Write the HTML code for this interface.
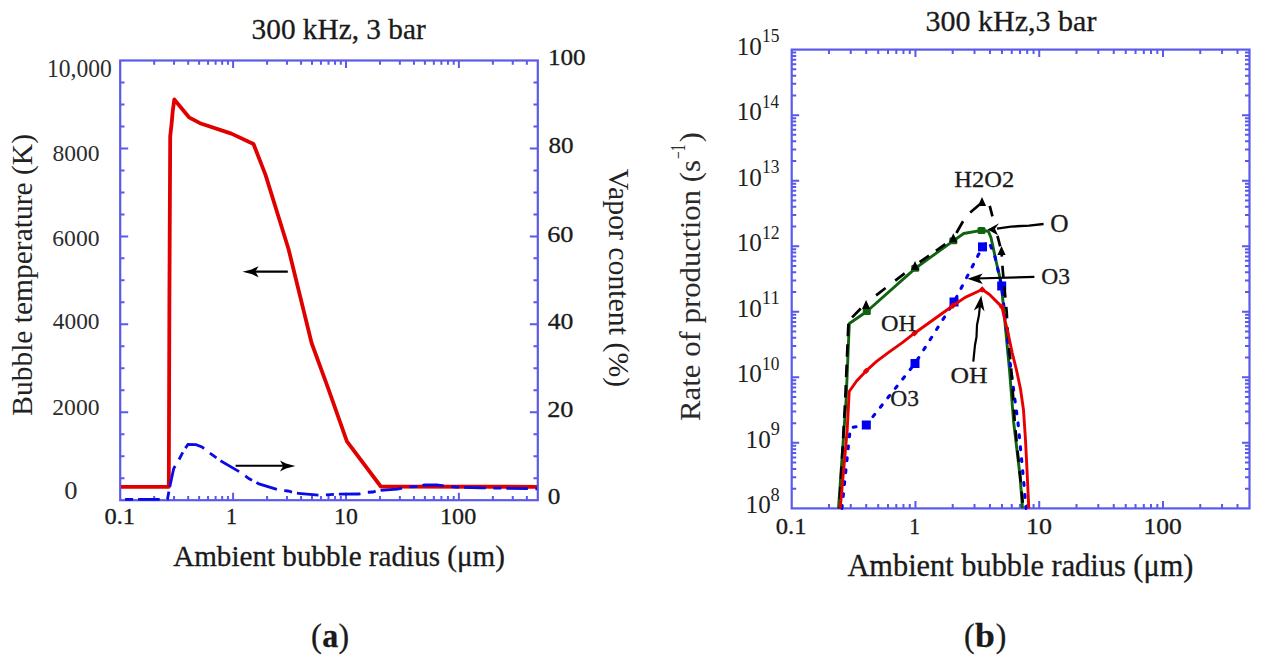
<!DOCTYPE html>
<html><head><meta charset="utf-8"><style>
html,body{margin:0;padding:0;background:#fff;}
svg{display:block;}
text{font-family:"Liberation Serif",serif;}
</style></head><body>
<svg width="1267" height="664" viewBox="0 0 1267 664">
<rect width="1267" height="664" fill="#fff"/>
<rect x="120.2" y="60.5" width="417.60" height="439.70" fill="none" stroke="#5a5aea" stroke-width="2.2"/>
<path d="M154.19 500.2v-4.2M154.19 60.5v4.2M174.07 500.2v-4.2M174.07 60.5v4.2M188.17 500.2v-4.2M188.17 60.5v4.2M199.11 500.2v-4.2M199.11 60.5v4.2M208.05 500.2v-4.2M208.05 60.5v4.2M215.61 500.2v-4.2M215.61 60.5v4.2M222.16 500.2v-4.2M222.16 60.5v4.2M227.93 500.2v-4.2M227.93 60.5v4.2M233.10 500.2v-7.5M233.10 60.5v7.5M267.08 500.2v-4.2M267.08 60.5v4.2M286.96 500.2v-4.2M286.96 60.5v4.2M301.07 500.2v-4.2M301.07 60.5v4.2M312.01 500.2v-4.2M312.01 60.5v4.2M320.95 500.2v-4.2M320.95 60.5v4.2M328.50 500.2v-4.2M328.50 60.5v4.2M335.05 500.2v-4.2M335.05 60.5v4.2M340.83 500.2v-4.2M340.83 60.5v4.2M345.99 500.2v-7.5M345.99 60.5v7.5M379.98 500.2v-4.2M379.98 60.5v4.2M399.86 500.2v-4.2M399.86 60.5v4.2M413.96 500.2v-4.2M413.96 60.5v4.2M424.90 500.2v-4.2M424.90 60.5v4.2M433.84 500.2v-4.2M433.84 60.5v4.2M441.40 500.2v-4.2M441.40 60.5v4.2M447.95 500.2v-4.2M447.95 60.5v4.2M453.72 500.2v-4.2M453.72 60.5v4.2M458.89 500.2v-7.5M458.89 60.5v7.5M492.87 500.2v-4.2M492.87 60.5v4.2M512.75 500.2v-4.2M512.75 60.5v4.2M526.86 500.2v-4.2M526.86 60.5v4.2M120.2 478.21h4.3M537.8 478.21h-4.3M120.2 456.23h4.3M537.8 456.23h-4.3M120.2 434.25h4.3M537.8 434.25h-4.3M120.2 412.26h8M537.8 412.26h-8M120.2 390.27h4.3M537.8 390.27h-4.3M120.2 368.29h4.3M537.8 368.29h-4.3M120.2 346.30h4.3M537.8 346.30h-4.3M120.2 324.32h8M537.8 324.32h-8M120.2 302.34h4.3M537.8 302.34h-4.3M120.2 280.35h4.3M537.8 280.35h-4.3M120.2 258.37h4.3M537.8 258.37h-4.3M120.2 236.38h8M537.8 236.38h-8M120.2 214.40h4.3M537.8 214.40h-4.3M120.2 192.41h4.3M537.8 192.41h-4.3M120.2 170.43h4.3M537.8 170.43h-4.3M120.2 148.44h8M537.8 148.44h-8M120.2 126.45h4.3M537.8 126.45h-4.3M120.2 104.47h4.3M537.8 104.47h-4.3M120.2 82.49h4.3M537.8 82.49h-4.3" stroke="#5a5aea" stroke-width="2" fill="none"/>
<polyline points="121.0,486.8 168.8,486.8 169.4,300.0 170.2,136.4 171.5,124.8 172.7,111.5 174.3,99.5 189.0,117.3 200.0,123.2 231.4,133.6 253.5,144.0 265.6,175.1 288.5,249.0 311.6,343.0 328.0,387.8 346.9,441.4 380.8,486.5 537.0,486.8" fill="none" stroke="#e00000" stroke-width="3.8" stroke-linejoin="round"/>
<polyline points="121.0,499.4 160.0,499.4 167.5,499.2 168.8,492.0 170.2,485.0 173.7,468.4 178.8,460.0 183.9,450.3 188.0,444.4 196.0,444.6 202.0,447.0 209.9,453.2 215.5,457.1 220.0,460.5 241.0,472.7 248.8,478.5 255.7,482.0 259.0,483.9 280.1,490.3 288.0,491.0 295.2,493.0 298.3,493.3 320.4,495.2 336.8,494.2 358.9,494.0 366.5,492.3 373.0,492.0 376.5,490.8 397.3,489.1 405.6,487.2 416.0,486.5 425.0,485.0 436.8,484.8 444.6,486.0 456.0,487.0 480.0,487.8 537.0,488.8" fill="none" stroke="#0a0ae6" stroke-width="2.8" stroke-dasharray="21.6 7.5 8 5" stroke-dashoffset="25"/>
<path d="M287.8 271.6H252" stroke="#000" stroke-width="2.2"/>
<path d="M242.5 271.7L251.5 269.4L258.6 266.2L255.4 271.6L258.6 277.2L251.5 274Z" fill="#000"/>
<path d="M235.6 465.8H286" stroke="#000" stroke-width="2.1"/>
<path d="M295.4 466L286 463.6L280 460.6L283.2 465.9L280 471.5L286 468.4Z" fill="#000"/>
<rect x="791.7" y="49.6" width="457.80" height="458.80" fill="none" stroke="#5a5aea" stroke-width="2.2"/>
<path d="M828.96 508.4v-4.5M828.96 49.6v4.5M850.75 508.4v-4.5M850.75 49.6v4.5M866.21 508.4v-4.5M866.21 49.6v4.5M878.21 508.4v-4.5M878.21 49.6v4.5M888.01 508.4v-4.5M888.01 49.6v4.5M896.29 508.4v-4.5M896.29 49.6v4.5M903.47 508.4v-4.5M903.47 49.6v4.5M909.80 508.4v-4.5M909.80 49.6v4.5M915.46 508.4v-7.5M915.46 49.6v7.5M952.72 508.4v-4.5M952.72 49.6v4.5M974.51 508.4v-4.5M974.51 49.6v4.5M989.98 508.4v-4.5M989.98 49.6v4.5M1001.97 508.4v-4.5M1001.97 49.6v4.5M1011.77 508.4v-4.5M1011.77 49.6v4.5M1020.06 508.4v-4.5M1020.06 49.6v4.5M1027.23 508.4v-4.5M1027.23 49.6v4.5M1033.57 508.4v-4.5M1033.57 49.6v4.5M1039.23 508.4v-7.5M1039.23 49.6v7.5M1076.49 508.4v-4.5M1076.49 49.6v4.5M1098.28 508.4v-4.5M1098.28 49.6v4.5M1113.74 508.4v-4.5M1113.74 49.6v4.5M1125.74 508.4v-4.5M1125.74 49.6v4.5M1135.54 508.4v-4.5M1135.54 49.6v4.5M1143.82 508.4v-4.5M1143.82 49.6v4.5M1151.00 508.4v-4.5M1151.00 49.6v4.5M1157.33 508.4v-4.5M1157.33 49.6v4.5M1162.99 508.4v-7.5M1162.99 49.6v7.5M1200.25 508.4v-4.5M1200.25 49.6v4.5M1222.04 508.4v-4.5M1222.04 49.6v4.5M1237.51 508.4v-4.5M1237.51 49.6v4.5M791.7 488.67h4.5M1249.5 488.67h-4.5M791.7 477.13h4.5M1249.5 477.13h-4.5M791.7 468.94h4.5M1249.5 468.94h-4.5M791.7 462.59h4.5M1249.5 462.59h-4.5M791.7 457.40h4.5M1249.5 457.40h-4.5M791.7 453.01h4.5M1249.5 453.01h-4.5M791.7 449.21h4.5M1249.5 449.21h-4.5M791.7 445.86h4.5M1249.5 445.86h-4.5M791.7 442.86h7.5M1249.5 442.86h-7.5M791.7 423.13h4.5M1249.5 423.13h-4.5M791.7 411.59h4.5M1249.5 411.59h-4.5M791.7 403.40h4.5M1249.5 403.40h-4.5M791.7 397.04h4.5M1249.5 397.04h-4.5M791.7 391.85h4.5M1249.5 391.85h-4.5M791.7 387.47h4.5M1249.5 387.47h-4.5M791.7 383.67h4.5M1249.5 383.67h-4.5M791.7 380.31h4.5M1249.5 380.31h-4.5M791.7 377.31h7.5M1249.5 377.31h-7.5M791.7 357.58h4.5M1249.5 357.58h-4.5M791.7 346.04h4.5M1249.5 346.04h-4.5M791.7 337.85h4.5M1249.5 337.85h-4.5M791.7 331.50h4.5M1249.5 331.50h-4.5M791.7 326.31h4.5M1249.5 326.31h-4.5M791.7 321.92h4.5M1249.5 321.92h-4.5M791.7 318.12h4.5M1249.5 318.12h-4.5M791.7 314.77h4.5M1249.5 314.77h-4.5M791.7 311.77h7.5M1249.5 311.77h-7.5M791.7 292.04h4.5M1249.5 292.04h-4.5M791.7 280.50h4.5M1249.5 280.50h-4.5M791.7 272.31h4.5M1249.5 272.31h-4.5M791.7 265.96h4.5M1249.5 265.96h-4.5M791.7 260.77h4.5M1249.5 260.77h-4.5M791.7 256.38h4.5M1249.5 256.38h-4.5M791.7 252.58h4.5M1249.5 252.58h-4.5M791.7 249.23h4.5M1249.5 249.23h-4.5M791.7 246.23h7.5M1249.5 246.23h-7.5M791.7 226.50h4.5M1249.5 226.50h-4.5M791.7 214.96h4.5M1249.5 214.96h-4.5M791.7 206.77h4.5M1249.5 206.77h-4.5M791.7 200.42h4.5M1249.5 200.42h-4.5M791.7 195.23h4.5M1249.5 195.23h-4.5M791.7 190.84h4.5M1249.5 190.84h-4.5M791.7 187.04h4.5M1249.5 187.04h-4.5M791.7 183.68h4.5M1249.5 183.68h-4.5M791.7 180.69h7.5M1249.5 180.69h-7.5M791.7 160.96h4.5M1249.5 160.96h-4.5M791.7 149.41h4.5M1249.5 149.41h-4.5M791.7 141.22h4.5M1249.5 141.22h-4.5M791.7 134.87h4.5M1249.5 134.87h-4.5M791.7 129.68h4.5M1249.5 129.68h-4.5M791.7 125.30h4.5M1249.5 125.30h-4.5M791.7 121.49h4.5M1249.5 121.49h-4.5M791.7 118.14h4.5M1249.5 118.14h-4.5M791.7 115.14h7.5M1249.5 115.14h-7.5M791.7 95.41h4.5M1249.5 95.41h-4.5M791.7 83.87h4.5M1249.5 83.87h-4.5M791.7 75.68h4.5M1249.5 75.68h-4.5M791.7 69.33h4.5M1249.5 69.33h-4.5M791.7 64.14h4.5M1249.5 64.14h-4.5M791.7 59.75h4.5M1249.5 59.75h-4.5M791.7 55.95h4.5M1249.5 55.95h-4.5M791.7 52.60h4.5M1249.5 52.60h-4.5" stroke="#5a5aea" stroke-width="2" fill="none"/>
<polyline points="838.5,508.4 846.1,400.0 849.3,323.5 866.8,311.5 915.3,268.3 953.3,240.8 963.7,233.5 981.5,230.4 988.3,231.2 991.0,237.6 996.2,261.7 999.6,276.4 1002.2,293.3 1009.5,370.0 1013.7,422.7 1020.0,475.5 1022.5,508.4" fill="none" stroke="#0f650f" stroke-width="2.9" stroke-linejoin="round"/>
<rect x="862.8" y="308.0" width="8" height="7" rx="1.5" fill="#0f650f"/>
<rect x="911.3" y="264.8" width="8" height="7" rx="1.5" fill="#0f650f"/>
<rect x="949.3" y="237.3" width="8" height="7" rx="1.5" fill="#0f650f"/>
<rect x="977.5" y="226.9" width="8" height="7" rx="1.5" fill="#0f650f"/>
<polyline points="841.9,508.4 850.3,427.8 866.3,425.0 915.0,363.5 947.8,311.8 954.0,302.0 982.5,246.9 988.7,241.0 995.0,257.0 1001.7,286.0 1005.8,324.4 1009.7,359.6 1013.7,391.0 1018.0,422.7 1021.1,454.4 1024.3,488.0 1026.0,508.4" fill="none" stroke="#0000ee" stroke-width="3.1" stroke-dasharray="2.8 9.2" stroke-linecap="round"/>
<rect x="861.8" y="420.5" width="9" height="9" fill="#0000ee"/>
<rect x="910.5" y="359.0" width="9" height="9" fill="#0000ee"/>
<rect x="949.5" y="297.5" width="9" height="9" fill="#0000ee"/>
<rect x="978.0" y="242.4" width="9" height="9" fill="#0000ee"/>
<rect x="997.2" y="281.5" width="9" height="9" fill="#0000ee"/>
<polyline points="866.1,303.0 848.5,321.0 845.2,400.0 839.3,508.4" fill="none" stroke="#000" stroke-width="2.7" stroke-dasharray="12.5 7.9" stroke-dashoffset="12.8"/>
<polyline points="866.1,303.0 914.2,266.0" fill="none" stroke="#000" stroke-width="2.7" stroke-dasharray="12 12.1" stroke-dashoffset="11.5"/>
<polyline points="914.2,266.0 953.3,238.5" fill="none" stroke="#000" stroke-width="2.7" stroke-dasharray="11.5 8.4" stroke-dashoffset="13.3"/>
<polyline points="953.3,238.5 966.0,216.0 982.0,202.5" fill="none" stroke="#000" stroke-width="2.7" stroke-dasharray="13.5 11.5" stroke-dashoffset="18.7"/>
<polyline points="982.0,202.5 989.0,203.0 1001.5,251.5" fill="none" stroke="#000" stroke-width="2.7" stroke-dasharray="11 20" stroke-dashoffset="21.1"/>
<polyline points="1001.5,251.5 1002.8,271.0 1004.8,291.6 1006.7,312.0 1007.7,332.0 1009.7,353.0 1011.6,373.5 1014.8,422.7 1017.9,454.4 1022.2,496.6 1023.2,508.4" fill="none" stroke="#000" stroke-width="2.7" stroke-dasharray="11.5 9.1" stroke-dashoffset="6.3"/>
<path d="M866.1 299.9L870.2 308.9L862.0 308.9Z" fill="#000"/>
<path d="M915.0 260.9L919.1 269.9L910.9 269.9Z" fill="#000"/>
<path d="M953.3 233.2L957.4 242.2L949.2 242.2Z" fill="#000"/>
<path d="M982.0 196.9L986.1 205.9L977.9 205.9Z" fill="#000"/>
<path d="M1001.5 245.9L1005.6 254.9L997.4 254.9Z" fill="#000"/>
<polyline points="840.2,508.4 847.2,430.0 849.2,391.5 856.6,381.0 866.1,370.9 876.6,361.4 889.3,351.9 902.0,342.9 914.5,333.2 952.8,305.8 965.2,297.4 982.2,289.5 989.5,294.5 997.6,302.6 1002.1,307.1 1003.0,311.6 1004.8,319.8 1007.5,330.6 1012.1,352.3 1016.5,370.0 1020.5,389.0 1023.5,410.0 1025.5,440.0 1027.0,470.0 1028.8,508.4" fill="none" stroke="#e60000" stroke-width="2.9" stroke-linejoin="round"/>
<path d="M866.1 367.7L869.3 370.9L866.1 374.1L862.9 370.9Z" fill="#e00000"/>
<path d="M914.5 330.0L917.7 333.2L914.5 336.4L911.3 333.2Z" fill="#e00000"/>
<path d="M952.8 302.6L956.0 305.8L952.8 309.0L949.6 305.8Z" fill="#e00000"/>
<path d="M982.2 286.3L985.4 289.5L982.2 292.7L979.0 289.5Z" fill="#e00000"/>
<path d="M1002.1 303.9L1005.3 307.1L1002.1 310.3L998.9 307.1Z" fill="#e00000"/>
<path d="M1043.6 224L1029 225.6L1011 226.6L997 228.6" stroke="#000" stroke-width="2.4" fill="none"/>
<path d="M987.6 229.6L999 223.2L995 228.8L998 235.2Z" fill="#000"/>
<path d="M1034.4 276.9L975 278.5" stroke="#000" stroke-width="2.2" fill="none"/>
<path d="M967.4 278.7L982.7 273.5L979 278.6L982.7 284Z" fill="#000"/>
<path d="M973.3 361.7L975 345L976.5 337L977 325L979 315L980 305" stroke="#000" stroke-width="2.2" fill="none" stroke-linejoin="round"/>
<path d="M981.3 295.5L984.5 311.5L980.3 306.5L973.8 310.5Z" fill="#000"/>
<g font-family="Liberation Serif, serif" fill="#1a1a1a" stroke="#1a1a1a" stroke-width="0.3">
<text x="251.61" y="38.70" font-size="29" textLength="174.02" lengthAdjust="spacingAndGlyphs">300 kHz, 3 bar</text>
<text x="173.21" y="565.70" font-size="29.3" textLength="331.74" lengthAdjust="spacingAndGlyphs">Ambient bubble radius (μm)</text>
<g fill="#2c2c2c" stroke="none">
<text x="47.04" y="76.80" font-size="24.5" textLength="64.85" lengthAdjust="spacingAndGlyphs">10,000</text>
<text x="52.42" y="161.40" font-size="24" textLength="47.06" lengthAdjust="spacingAndGlyphs">8000</text>
<text x="52.30" y="246.20" font-size="24" textLength="47.19" lengthAdjust="spacingAndGlyphs">6000</text>
<text x="52.83" y="328.60" font-size="24" textLength="46.64" lengthAdjust="spacingAndGlyphs">4000</text>
<text x="52.30" y="414.70" font-size="24" textLength="47.19" lengthAdjust="spacingAndGlyphs">2000</text>
<text x="64.20" y="498.70" font-size="24.5" textLength="13.29" lengthAdjust="spacingAndGlyphs">0</text>
</g>
<text x="547.90" y="65.30" font-size="23.3" textLength="37.75" lengthAdjust="spacingAndGlyphs">100</text>
<text x="548.56" y="152.90" font-size="23.3" textLength="25.08" lengthAdjust="spacingAndGlyphs">80</text>
<text x="547.18" y="241.50" font-size="23.3" textLength="26.30" lengthAdjust="spacingAndGlyphs">60</text>
<text x="547.79" y="329.30" font-size="23.3" textLength="25.68" lengthAdjust="spacingAndGlyphs">40</text>
<text x="547.18" y="417.20" font-size="23.3" textLength="26.30" lengthAdjust="spacingAndGlyphs">20</text>
<text x="547.86" y="504.40" font-size="23.3" textLength="12.59" lengthAdjust="spacingAndGlyphs">0</text>
<text x="104.48" y="524.10" font-size="22.5" textLength="30.59" lengthAdjust="spacingAndGlyphs">0.1</text>
<text x="226.06" y="524.10" font-size="22.5" textLength="11.06" lengthAdjust="spacingAndGlyphs">1</text>
<text x="334.02" y="524.10" font-size="22.5" textLength="23.77" lengthAdjust="spacingAndGlyphs">10</text>
<text x="440.09" y="524.10" font-size="22.5" textLength="36.11" lengthAdjust="spacingAndGlyphs">100</text>
<g stroke="none" fill="#222">
<text transform="translate(32.00 415.00) rotate(-90)" x="-0.81" y="0.00" font-size="29.5">Bubble temperature (K)</text>
<text transform="translate(609.30 169.00) rotate(90)" x="-0.30" y="0.00" font-size="29.8">Vapor content (%)</text>
</g>
<text x="311.01" y="646.70" font-size="34" textLength="10.86" lengthAdjust="spacingAndGlyphs">(</text>
<text x="322.16" y="646.70" font-size="34" font-weight="bold" textLength="16.02" lengthAdjust="spacingAndGlyphs">a</text>
<text x="338.57" y="646.70" font-size="34" textLength="10.60" lengthAdjust="spacingAndGlyphs">)</text>
<text x="964.05" y="646.70" font-size="34" textLength="10.60" lengthAdjust="spacingAndGlyphs">(</text>
<text x="975.05" y="646.70" font-size="34" font-weight="bold" textLength="19.81" lengthAdjust="spacingAndGlyphs">b</text>
<text x="995.67" y="646.70" font-size="34" textLength="10.60" lengthAdjust="spacingAndGlyphs">)</text>
<g stroke="none" fill="#2a2a2a">
<text transform="translate(699.50 420.20) rotate(-90)" x="-0.85" y="0.00" font-size="30" textLength="261.01" lengthAdjust="spacingAndGlyphs">Rate of production (s</text>
<text transform="translate(699.50 420.20) rotate(-90)" x="261.32" y="-14.60" font-size="20.6" textLength="14.48" lengthAdjust="spacingAndGlyphs">−1</text>
<text transform="translate(699.50 420.20) rotate(-90)" x="277.93" y="0.00" font-size="30" textLength="9.96" lengthAdjust="spacingAndGlyphs">)</text>
</g>
<text x="925.47" y="31.25" font-size="29.5" textLength="170.96" lengthAdjust="spacingAndGlyphs">300 kHz,3 bar</text>
<text x="847.40" y="576.00" font-size="31.2" textLength="346.10" lengthAdjust="spacingAndGlyphs">Ambient bubble radius (μm)</text>
<text x="775.68" y="534.40" font-size="23.3" textLength="30.80" lengthAdjust="spacingAndGlyphs">0.1</text>
<text x="909.21" y="534.40" font-size="23.3" textLength="10.78" lengthAdjust="spacingAndGlyphs">1</text>
<text x="1026.13" y="534.40" font-size="23.3" textLength="25.94" lengthAdjust="spacingAndGlyphs">10</text>
<text x="1143.57" y="534.40" font-size="23.3" textLength="38.29" lengthAdjust="spacingAndGlyphs">100</text>
<g stroke="none" fill="#202020">
<text x="745.60" y="513.40" font-size="24.2" textLength="25.14" lengthAdjust="spacingAndGlyphs">10</text>
<text x="770.61" y="500.80" font-size="19.5" textLength="9.18" lengthAdjust="spacingAndGlyphs">8</text>
<text x="745.60" y="447.86" font-size="24.2" textLength="25.14" lengthAdjust="spacingAndGlyphs">10</text>
<text x="770.71" y="435.26" font-size="19.5" textLength="9.12" lengthAdjust="spacingAndGlyphs">9</text>
<text x="736.80" y="382.31" font-size="24.2" textLength="25.14" lengthAdjust="spacingAndGlyphs">10</text>
<text x="761.98" y="369.71" font-size="19.5" textLength="17.37" lengthAdjust="spacingAndGlyphs">10</text>
<text x="736.80" y="316.77" font-size="24.2" textLength="25.14" lengthAdjust="spacingAndGlyphs">10</text>
<text x="761.87" y="304.17" font-size="19.5" textLength="17.96" lengthAdjust="spacingAndGlyphs">11</text>
<text x="736.80" y="251.23" font-size="24.2" textLength="25.14" lengthAdjust="spacingAndGlyphs">10</text>
<text x="761.95" y="238.63" font-size="19.5" textLength="17.73" lengthAdjust="spacingAndGlyphs">12</text>
<text x="736.80" y="185.69" font-size="24.2" textLength="25.14" lengthAdjust="spacingAndGlyphs">10</text>
<text x="761.98" y="173.09" font-size="19.5" textLength="17.42" lengthAdjust="spacingAndGlyphs">13</text>
<text x="736.80" y="120.14" font-size="24.2" textLength="25.14" lengthAdjust="spacingAndGlyphs">10</text>
<text x="762.02" y="107.54" font-size="19.5" textLength="16.94" lengthAdjust="spacingAndGlyphs">14</text>
<text x="736.80" y="54.60" font-size="24.2" textLength="25.14" lengthAdjust="spacingAndGlyphs">10</text>
<text x="761.98" y="42.00" font-size="19.5" textLength="17.42" lengthAdjust="spacingAndGlyphs">15</text>
</g>
<text x="954.33" y="187.30" font-size="23.7" textLength="59.91" lengthAdjust="spacingAndGlyphs">H2O2</text>
<text x="1050.39" y="231.60" font-size="24.2" textLength="18.32" lengthAdjust="spacingAndGlyphs">O</text>
<text x="1041.36" y="283.50" font-size="24" textLength="28.78" lengthAdjust="spacingAndGlyphs">O3</text>
<text x="880.93" y="331.00" font-size="24" textLength="35.09" lengthAdjust="spacingAndGlyphs">OH</text>
<text x="950.47" y="382.80" font-size="24" textLength="37.08" lengthAdjust="spacingAndGlyphs">OH</text>
<text x="890.16" y="406.10" font-size="24" textLength="28.78" lengthAdjust="spacingAndGlyphs">O3</text>
</g>
</svg>
</body></html>
